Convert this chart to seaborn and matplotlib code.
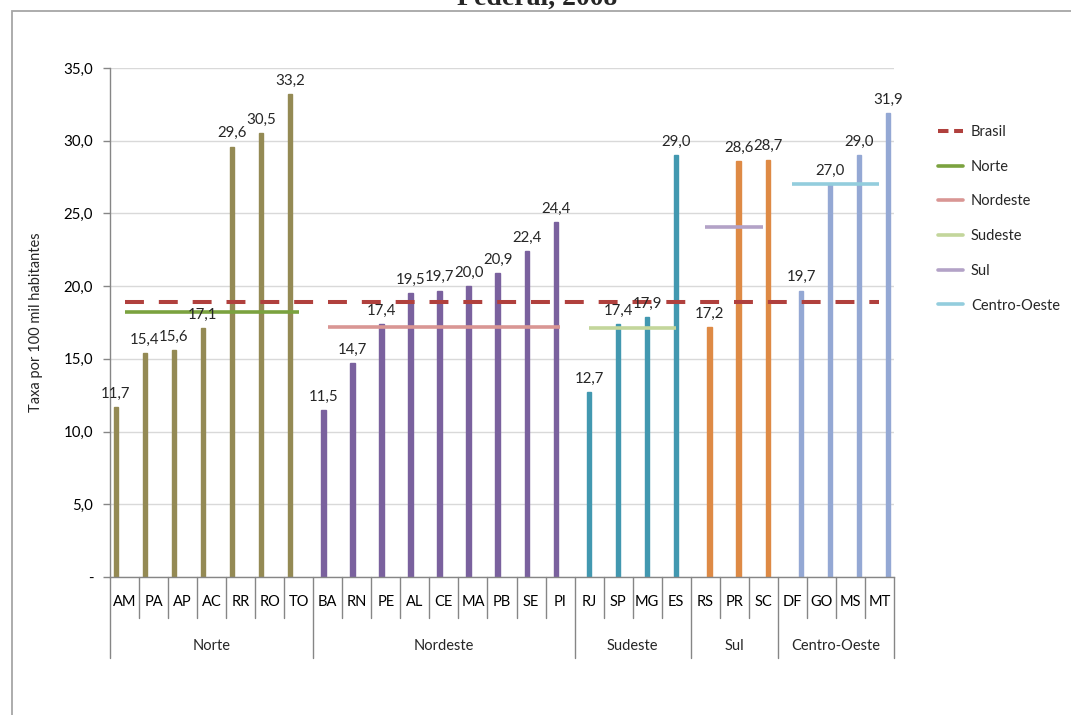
import matplotlib
matplotlib.use('Agg')
import matplotlib.pyplot as plt
import matplotlib.transforms as mtransforms
from matplotlib.lines import Line2D
from matplotlib.patches import Rectangle
from matplotlib.ticker import FuncFormatter
import seaborn as sns
import pandas as pd
import numpy as np

# ---------------- data ----------------
regioes = ['Norte', 'Nordeste', 'Sudeste', 'Sul', 'Centro-Oeste']

ufs_norte = ['AM', 'PA', 'AP', 'AC', 'RR', 'RO', 'TO']
taxa_norte = [11.7, 15.4, 15.6, 17.1, 29.6, 30.5, 33.2]

ufs_nordeste = ['BA', 'RN', 'PE', 'AL', 'CE', 'MA', 'PB', 'SE', 'PI']
taxa_nordeste = [11.5, 14.7, 17.4, 19.5, 19.7, 20.0, 20.9, 22.4, 24.4]

ufs_sudeste = ['RJ', 'SP', 'MG', 'ES']
taxa_sudeste = [12.7, 17.4, 17.9, 29.0]

ufs_sul = ['RS', 'PR', 'SC']
taxa_sul = [17.2, 28.6, 28.7]

ufs_co = ['DF', 'GO', 'MS', 'MT']
taxa_co = [19.7, 27.0, 29.0, 31.9]

media_brasil = 18.9
medias_regioes = [18.2, 17.2, 17.1, 24.1, 27.0]

titulo = 'Federal, 2008'
ylabel = 'Taxa por 100 mil habitantes'

# ---------------- styles ----------------
cores_barras = ['#948A54', '#7A619E', '#4298B0', '#DE8A45', '#94A8D4']
cores_medias = ['#7BA23F', '#D99694', '#C3D69B', '#B3A2C7', '#93CDDD']
cor_brasil = '#B0403D'
cinza = '#868686'

grupos_ufs = [ufs_norte, ufs_nordeste, ufs_sudeste, ufs_sul, ufs_co]
grupos_taxas = [taxa_norte, taxa_nordeste, taxa_sudeste, taxa_sul, taxa_co]

rows = []
for reg, us, ts in zip(regioes, grupos_ufs, grupos_taxas):
    for u, t in zip(us, ts):
        rows.append({'UF': u, 'Taxa': t, 'Região': reg})
df = pd.DataFrame(rows)
ufs = list(df['UF'])
n = len(ufs)

sns.set_style('white')
plt.rcParams['font.family'] = ['Lato', 'DejaVu Sans']

W, H = 1071, 715
fig = plt.figure(figsize=(W / 100, H / 100), dpi=100)
ax = fig.add_axes([110 / W, 1 - 577 / H, 784 / W, 509 / H])

sns.barplot(data=df, x='UF', y='Taxa', hue='Região', order=ufs,
            hue_order=regioes, palette=cores_barras, dodge=True,
            width=0.75, gap=0, legend=False, ax=ax, saturation=1,
            errorbar=None, zorder=2)
for p in ax.patches:
    p.set_edgecolor(p.get_facecolor())
    p.set_linewidth(1.0)

ax.set_xlim(-0.5, n - 0.5)
ax.set_ylim(0, 35)
ax.set_yticks(np.arange(0, 36, 5))
ax.yaxis.set_major_formatter(
    FuncFormatter(lambda v, p: '-' if abs(v) < 1e-9 else f'{v:.1f}'.replace('.', ',')))
ax.grid(axis='y', color='#D9D9D9', lw=1)
ax.grid(axis='x', visible=False)
ax.set_axisbelow(True)
for s in ['top', 'right']:
    ax.spines[s].set_visible(False)
for s in ['left', 'bottom']:
    ax.spines[s].set_color(cinza)
    ax.spines[s].set_linewidth(1)
ax.tick_params(axis='y', left=True, length=5, width=1, color=cinza,
               direction='out', pad=7, labelsize=10.8, labelcolor='black')
ax.tick_params(axis='x', bottom=False, length=0, pad=13, labelsize=10.5,
               labelcolor='black')
ax.set_xlabel('')
ax.set_ylabel(ylabel, fontsize=10.5)
ax.yaxis.set_label_coords(-0.085, 0.5)

# data labels
fmt = lambda v: f'{v:.1f}'.replace('.', ',')
for cont in ax.containers:
    labs = [fmt(b.get_height()) if np.isfinite(b.get_height()) and b.get_height() > 0 else ''
            for b in cont]
    for t in ax.bar_label(cont, labels=labs, padding=4.5, fontsize=10.8):
        t.set_zorder(5)

# region averages
pos = 0
bounds = [0]
for reg, us, m, c in zip(regioes, grupos_ufs, medias_regioes, cores_medias):
    s, e = pos, pos + len(us) - 1
    ax.plot([s, e], [m, m], color=c, lw=2.6, solid_capstyle='butt', zorder=3)
    pos += len(us)
    bounds.append(pos)
ax.plot([0, n - 1], [media_brasil, media_brasil], color=cor_brasil, lw=2.9,
        ls=(0, (4.7, 3.7)), zorder=4)

# two-level category axis
trans = mtransforms.blended_transform_factory(ax.transData, ax.transAxes)
short = -(618 - 577) / 509
long_ = -(658 - 577) / 509
for k in range(n + 1):
    d = long_ if k in bounds else short
    ax.plot([k - 0.5, k - 0.5], [0, d], transform=trans, clip_on=False,
            color=cinza, lw=1)
for i, reg in enumerate(regioes):
    cx = (bounds[i] + bounds[i + 1] - 1) / 2
    ax.text(cx, -(646 - 577) / 509, reg, transform=trans, ha='center',
            va='center', fontsize=10.5)

# legend
handles = [Line2D([], [], color=cor_brasil, lw=2.9, ls=(0, (2.6, 1.4)))]
handles += [Line2D([], [], color=c, lw=2.6) for c in cores_medias]
fig.legend(handles, ['Brasil'] + regioes, loc='upper left',
           bbox_to_anchor=(938 / W, 1 - 125 / H), frameon=False,
           handlelength=1.7, handletextpad=0.55, labelspacing=1.42,
           borderpad=0, borderaxespad=0, fontsize=10.5)

# outer chart frame and clipped title
fig.add_artist(Rectangle((12 / W, -0.5), 2, 0.5 + (1 - 11 / H),
                         transform=fig.transFigure, fill=False,
                         ec='#A6A6A6', lw=1.3))
fig.text(537.5 / W, 1 - 5 / H, titulo, family='Liberation Serif',
         weight='bold', fontsize=20, ha='center', va='baseline')

fig.savefig('out.png', dpi=100)
